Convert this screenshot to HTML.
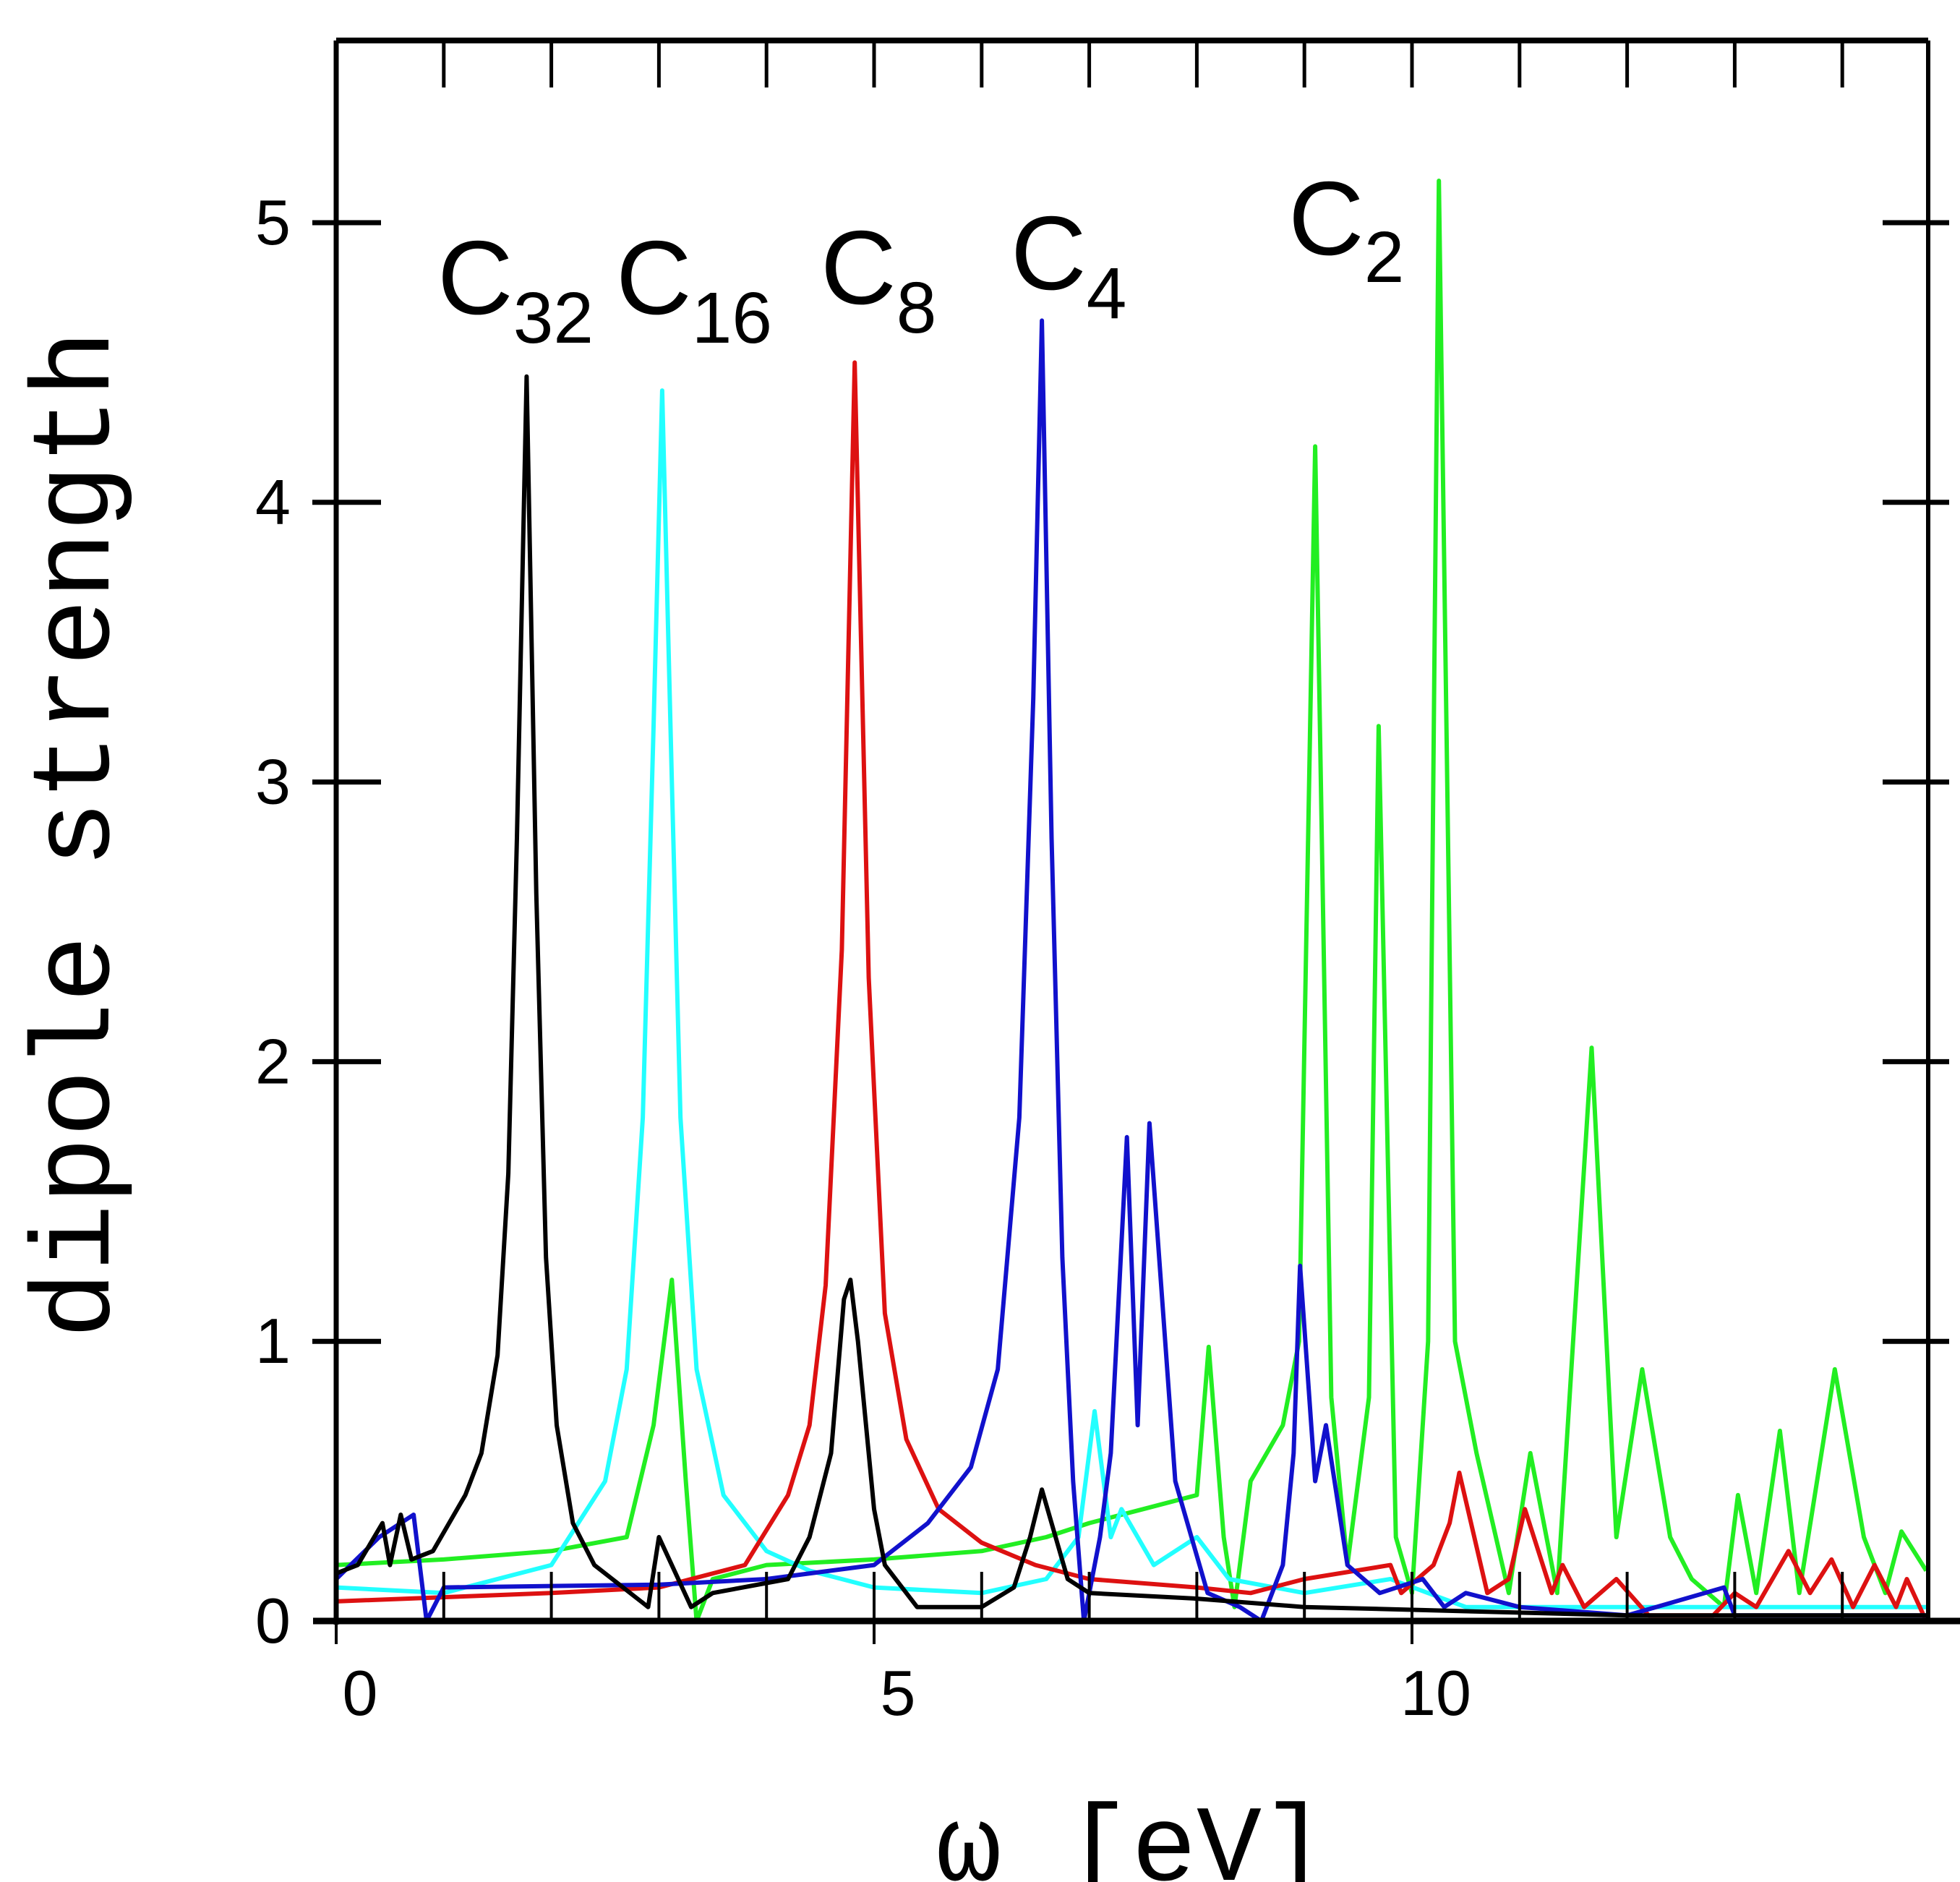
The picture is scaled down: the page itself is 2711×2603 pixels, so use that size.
<!DOCTYPE html>
<html><head><meta charset="utf-8"><style>
html,body{margin:0;padding:0;background:#fff;}
svg{display:block;}
text{font-family:"Liberation Sans",sans-serif;fill:#000;}
.mono{font-family:"Liberation Mono",monospace;}
</style></head><body>
<svg id="chart" width="2711" height="2603" viewBox="0 0 2711 2603" xmlns="http://www.w3.org/2000/svg">
<rect x="0" y="0" width="2711" height="2603" fill="#fff"/>
<g id="series"></g>
<g id="axes"></g>
<text class="mono" x="1565" y="2600" font-size="150" text-anchor="middle">ω [eV]</text>
<text class="mono" transform="translate(150,1154) rotate(-90)" font-size="155" text-anchor="middle">dipole strength</text>
<text x="605" y="434" font-size="145">C<tspan font-size="100" dy="40">32</tspan></text>
<text x="852" y="434" font-size="145">C<tspan font-size="100" dy="40">16</tspan></text>
<text x="1135" y="420" font-size="145">C<tspan font-size="100" dy="40">8</tspan></text>
<text x="1398" y="400" font-size="145">C<tspan font-size="100" dy="40">4</tspan></text>
<text x="1782" y="352" font-size="145">C<tspan font-size="100" dy="38">2</tspan></text>
</svg>
<script>
const xTicks = [0, 5, 10];
const yTicks = [0, 1, 2, 3, 4, 5];
const blackX = [0,0.2,0.43,0.5,0.6,0.7,0.9,1.2,1.35,1.5,1.6,1.68,1.77,1.86,1.95,2.05,2.2,2.4,2.9,3.0,3.3,3.5,4.2,4.4,4.6,4.72,4.78,4.85,5.0,5.1,5.4,6.0,6.3,6.45,6.56,6.8,7.0,8.0,9.0,10.0,12.0,14.78];
const blackY = [0.17,0.2,0.35,0.2,0.38,0.22,0.25,0.45,0.6,0.95,1.6,2.8,4.45,2.6,1.3,0.7,0.35,0.2,0.05,0.3,0.05,0.1,0.15,0.3,0.6,1.15,1.22,1.0,0.4,0.2,0.05,0.05,0.12,0.3,0.47,0.15,0.1,0.08,0.05,0.04,0.02,0.02];
const cyanX = [0,1,2,2.5,2.7,2.85,2.95,3.03,3.12,3.2,3.35,3.6,4.0,4.4,5,6,6.6,6.9,7.05,7.2,7.3,7.6,8,8.3,9,9.8,10.5,14.78];
const cyanY = [0.12,0.1,0.2,0.5,0.9,1.8,3.2,4.4,3.0,1.8,0.9,0.45,0.25,0.18,0.12,0.1,0.15,0.3,0.75,0.3,0.4,0.2,0.3,0.15,0.1,0.15,0.05,0.05];
const greenX = [0,1,2,2.7,2.95,3.12,3.25,3.35,3.5,4,5,6,6.6,7,7.5,8.0,8.11,8.25,8.35,8.5,8.8,8.95,9.1,9.25,9.4,9.6,9.69,9.85,10.0,10.15,10.25,10.4,10.6,10.9,11.1,11.35,11.67,11.9,12.14,12.4,12.6,12.9,13.03,13.2,13.42,13.6,13.93,14.2,14.4,14.55,14.78];
const greenY = [0.2,0.22,0.25,0.3,0.7,1.22,0.5,0.0,0.15,0.2,0.22,0.25,0.3,0.35,0.4,0.45,0.98,0.3,0.05,0.5,0.7,1.0,4.2,0.8,0.2,0.8,3.2,0.3,0.1,1.0,5.15,1.0,0.6,0.1,0.6,0.1,2.05,0.3,0.9,0.3,0.15,0.05,0.45,0.1,0.68,0.1,0.9,0.3,0.1,0.32,0.18];
const redX = [0,2,3,3.8,4.2,4.4,4.55,4.7,4.82,4.95,5.1,5.3,5.6,6,6.5,7,8,8.5,9.0,9.8,9.9,10.2,10.35,10.44,10.7,10.9,11.05,11.3,11.4,11.6,11.9,12.2,12.8,13.0,13.2,13.5,13.7,13.9,14.1,14.3,14.5,14.6,14.78];
const redY = [0.07,0.1,0.12,0.2,0.45,0.7,1.2,2.4,4.5,2.3,1.1,0.65,0.4,0.28,0.2,0.15,0.12,0.1,0.15,0.2,0.1,0.2,0.35,0.53,0.1,0.15,0.4,0.1,0.2,0.05,0.15,0.02,0.02,0.1,0.05,0.25,0.1,0.22,0.05,0.2,0.05,0.15,0.0];
const blueX = [0,0.4,0.72,0.84,1,3,4,5,5.5,5.9,6.15,6.35,6.48,6.56,6.65,6.75,6.85,6.95,7.1,7.2,7.35,7.45,7.56,7.8,8.1,8.4,8.6,8.8,8.9,8.96,9.1,9.2,9.4,9.7,10.1,10.3,10.5,11,12,12.9,13,14.78];
const blueY = [0.15,0.3,0.38,0.0,0.12,0.13,0.15,0.2,0.35,0.55,0.9,1.8,3.3,4.65,2.8,1.3,0.5,0.0,0.3,0.6,1.73,0.7,1.78,0.5,0.1,0.05,0.0,0.2,0.6,1.27,0.5,0.7,0.2,0.1,0.15,0.05,0.1,0.05,0.02,0.12,0.02,0.02];

const X0 = 465, XU = 148.8, Y0 = 2242, YU = 386.8;
const LEFT = 465, RIGHT = 2667, TOP = 56;
function sx(v){ return X0 + v * XU; }
function sy(v){ return Y0 - v * YU; }
const NS = 'http://www.w3.org/2000/svg';

function mk(tag, attrs, parent){
  const el = document.createElementNS(NS, tag);
  for (const k in attrs) el.setAttribute(k, attrs[k]);
  parent.appendChild(el);
  return el;
}

const seriesG = document.getElementById('series');
const seriesDefs = [
  ['series-c2-green', greenX, greenY, '#22ee22'],
  ['series-c16-cyan', cyanX, cyanY, '#22ffff'],
  ['series-c8-red', redX, redY, '#dd1111'],
  ['series-c4-blue', blueX, blueY, '#1111cc'],
  ['series-c32-black', blackX, blackY, '#000000']
];
seriesDefs.forEach(function(d){
  const pts = d[1].map(function(x, i){ return sx(x).toFixed(1) + ',' + sy(d[2][i]).toFixed(1); }).join(' ');
  const pl = mk('polyline', {points: pts, fill: 'none', stroke: d[3], 'stroke-width': 6, 'stroke-linejoin': 'round'}, seriesG);
  
  
});

const axesG = document.getElementById('axes');
let e;
e = mk('line', {x1: LEFT, y1: TOP, x2: LEFT, y2: Y0 + 5, stroke: '#000', 'stroke-width': 7}, axesG);


e = mk('line', {x1: RIGHT, y1: TOP, x2: RIGHT, y2: Y0, stroke: '#000', 'stroke-width': 6}, axesG);


e = mk('line', {x1: LEFT, y1: TOP, x2: RIGHT, y2: TOP, stroke: '#000', 'stroke-width': 8}, axesG);


e = mk('line', {x1: 433, y1: Y0, x2: 2711, y2: Y0, stroke: '#000', 'stroke-width': 9}, axesG);



for (let i = 1; i <= 14; i++) {
  e = mk('line', {x1: sx(i), y1: TOP, x2: sx(i), y2: TOP + 65, stroke: '#000', 'stroke-width': 5}, axesG);
  
  
  e = mk('line', {x1: sx(i), y1: Y0, x2: sx(i), y2: Y0 - 68, stroke: '#000', 'stroke-width': 4}, axesG);
  
  
}
xTicks.forEach(function(v){
  e = mk('line', {x1: sx(v), y1: Y0, x2: sx(v), y2: Y0 + 32, stroke: '#000', 'stroke-width': 4}, axesG);
  
  
  const t = mk('text', {x: sx(v) + 33, y: Y0 + 130, 'font-size': 88, 'text-anchor': 'middle'}, axesG);
  t.textContent = v;
  
  
});
yTicks.forEach(function(v){
  if (v > 0) {
    e = mk('line', {x1: 432, y1: sy(v), x2: 527, y2: sy(v), stroke: '#000', 'stroke-width': 7}, axesG);
    
    
    e = mk('line', {x1: RIGHT - 63, y1: sy(v), x2: 2696, y2: sy(v), stroke: '#000', 'stroke-width': 7}, axesG);
    
    
  }
  const t = mk('text', {x: 402, y: sy(v) + 30, 'font-size': 88, 'text-anchor': 'end'}, axesG);
  t.textContent = v;
  
  
});
</script>
</body></html>
